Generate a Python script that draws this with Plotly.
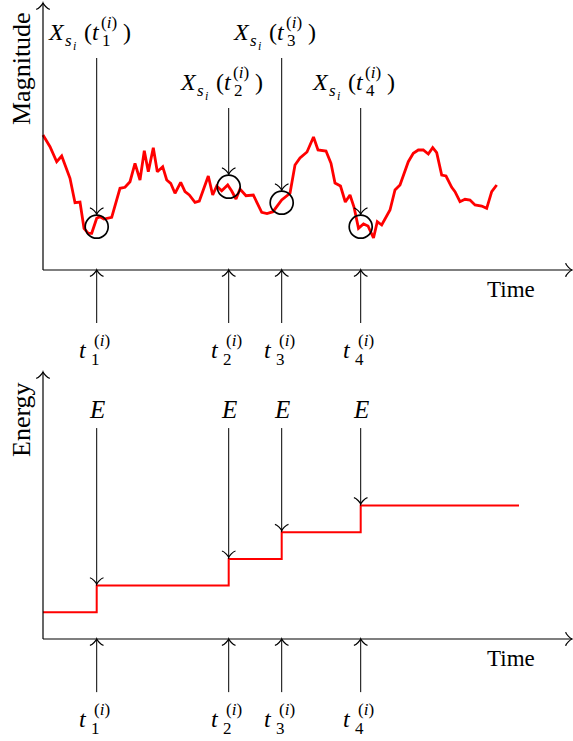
import plotly.graph_objects as go

W, H = 573, 741

# ---------------- data ----------------
mag_time = [0, 0.7, 1.37, 1.87, 2.7, 3.2, 3.7, 4.1, 4.53, 4.87,
            5.37, 5.7, 6.1, 6.87, 7.7, 8.2, 8.7, 9.2, 9.7, 10.13,
            10.53, 11.03, 11.43, 11.97, 12.37, 12.77, 13.2, 13.77, 14.2, 14.63,
            15.2, 15.63, 16.53, 16.97, 17.37, 17.87, 18.47, 18.87, 19.3, 19.7,
            20.3, 21.03, 21.87, 22.4, 23.0, 23.87, 24.7, 25.2, 25.7, 26.4,
            27.05, 27.5, 28.3, 28.8, 29.2, 29.75, 30.23, 30.7, 31.1, 31.55,
            32.05, 32.5, 33.05, 33.43, 33.87, 34.7, 35.2, 35.7, 36.53, 37.03,
            37.53, 38.03, 38.53, 38.97, 39.37, 39.87, 40.3, 40.87, 41.2, 41.7,
            42.2, 42.7, 43.2, 43.87, 44.37, 44.87, 45.37]
mag_value = [13.5, 12.33, 10.83, 11.4, 9.17, 6.73, 6.8, 4.17, 3.67, 3.67,
             5.17, 5.33, 5.1, 5.27, 8.17, 8.27, 8.83, 10.67, 9.0, 11.93,
             9.83, 12.23, 9.83, 10.33, 9.0, 8.67, 7.67, 8.77, 7.83, 7.5,
             6.77, 6.9, 9.4, 7.5, 8.4, 7.93, 8.5, 7.9, 7.1, 8.1,
             7.43, 7.5, 5.77, 5.65, 5.83, 7.0, 7.67, 10.5, 11.2, 11.8,
             13.3, 12.0, 11.9, 10.67, 8.7, 8.4, 6.8, 7.5, 6.3, 4.17,
             4.6, 4.4, 3.2, 4.83, 4.5, 6.0, 8.0, 8.5, 10.83, 11.67,
             12.0, 12.0, 11.6, 12.23, 11.73, 9.5, 9.4, 8.27, 7.83, 6.83,
             7.07, 7.0, 6.5, 6.4, 6.17, 7.83, 8.5]

event_time = [5.37, 18.57, 23.87, 31.77]
event_index = ["1", "2", "3", "4"]
event_magnitude = [4.33, 8.33, 6.73, 4.33]
energy_level = [1, 2, 3, 4, 5]
energy_end = 47.6

time_axis_end = 52.9
mag_axis_top = 26.7
energy_axis_top = 10.0

# ---------------- figure ----------------
SERIF = "Liberation Serif, Times New Roman, serif"
RED = "#ff0000"

fig = go.Figure()
fig.add_trace(go.Scatter(x=mag_time, y=mag_value, mode="lines",
                         line=dict(color=RED, width=2.8),
                         xaxis="x", yaxis="y", hoverinfo="skip"))
fig.add_trace(go.Scatter(x=[0] + event_time + [energy_end],
                         y=energy_level + [energy_level[-1]], mode="lines",
                         line=dict(color=RED, width=2, shape="hv"),
                         xaxis="x2", yaxis="y2", hoverinfo="skip"))

shapes = []
annotations = []


def line(xref, yref, x0, y0, x1, y1, w=1.0):
    shapes.append(dict(type="line", xref=xref, yref=yref, x0=x0, y0=y0,
                       x1=x1, y1=y1, line=dict(color="black", width=w),
                       layer="above"))


def barb(xref, yref, x, y, direction, off=0.0, w=1.2):
    # LaTeX "to" arrow tip; off moves the tip backwards along the shaft (px)
    k = 1.7
    pts = [(-3, 4), (-2.75, 2.5), (0, 0.25), (0.75, 0), (0, -0.25),
           (-2.75, -2.5), (-3, -4)]
    out = []
    for u, v in pts:
        u = (u - 0.75) * k - off
        v = v * k
        if direction == "right":
            px, py = u, v
        elif direction == "up":
            px, py = v, u
        else:  # down
            px, py = v, -u
        out.append((px, py))
    p = out
    path = ("M {:.2f},{:.2f} C {:.2f},{:.2f} {:.2f},{:.2f} {:.2f},{:.2f} "
            "C {:.2f},{:.2f} {:.2f},{:.2f} {:.2f},{:.2f}").format(
        *p[0], *p[1], *p[2], *p[3], *p[4], *p[5], *p[6])
    shapes.append(dict(type="path", xref=xref, yref=yref,
                       xsizemode="pixel", ysizemode="pixel",
                       xanchor=x, yanchor=y, path=path,
                       line=dict(color="black", width=w),
                       fillcolor="rgba(0,0,0,0)", layer="above"))


def txt(x, dx, base_py, s, size, xanchor="left", xref="x", angle=0):
    annotations.append(dict(x=x, xref=xref, xshift=dx,
                            y=1 - (base_py - 0.34 * size) / H, yref="paper",
                            yanchor="middle", xanchor=xanchor, text=s,
                            showarrow=False, textangle=angle,
                            font=dict(family=SERIF, size=size, color="black"),
                            borderpad=0, borderwidth=0))


# axes (drawn as arrows)
for xr, yr, ytop in (("x", "y", mag_axis_top), ("x2", "y2", energy_axis_top)):
    line(xr, yr, 0, 0, time_axis_end, 0, 1.2)
    line(xr, yr, 0, 0, 0, ytop, 1.2)
    barb(xr, yr, time_axis_end, 0, "right")
    barb(xr, yr, 0, ytop, "up")

# top panel: labels, arrows and circles
CIRCLE_R = 11.5
label_base = [40, 90, 40, 90]
label_tail = [21.2, 16.2, 21.2, 16.2]
for t, k, m, base, tail in zip(event_time, event_index, event_magnitude,
                               label_base, label_tail):
    shapes.append(dict(type="circle", xref="x", yref="y",
                       xsizemode="pixel", ysizemode="pixel",
                       xanchor=t, yanchor=m, x0=-CIRCLE_R, x1=CIRCLE_R,
                       y0=-CIRCLE_R, y1=CIRCLE_R,
                       line=dict(color="black", width=1.7), layer="above"))
    line("x", "y", t, m + 1.25, t, tail)
    barb("x", "y", t, m, "down", off=12.5)
    # X_{s_i}(t_k^{(i)})
    txt(t, -49, base, "<i>X</i>", 24)
    txt(t, -32, base + 6, "<i>s</i>", 17)
    txt(t, -24, base + 10, "<i>i</i>", 12)
    txt(t, -13, base, "(", 24)
    txt(t, -5, base, "<i>t</i>", 24)
    txt(t, 4, base - 12, "(<i>i</i>)", 17)
    txt(t, 5, base + 6, k, 17)
    txt(t, 26, base, ")", 24)
    # arrow from below to the axis
    line("x", "y", t, 0, t, -5.3)
    barb("x", "y", t, 0, "up")
    txt(t, -18, 358, "<i>t</i>", 24)
    txt(t, -3, 346, "(<i>i</i>)", 17)
    txt(t, -6, 365, k, 17)

# bottom panel
for j, (t, k) in enumerate(zip(event_time, event_index)):
    lvl = energy_level[j + 1]
    line("x2", "y2", t, lvl, t, 7.9)
    barb("x2", "y2", t, lvl, "down", off=1.5)
    txt(t, 0, 418, "<i>E</i>", 25, xanchor="center")
    line("x2", "y2", t, 0, t, -1.99)
    barb("x2", "y2", t, 0, "up")
    txt(t, -18, 727, "<i>t</i>", 24)
    txt(t, -3, 715, "(<i>i</i>)", 17)
    txt(t, -6, 734, k, 17)

# axis titles
txt(535 / W, 0, 297, "Time", 23, xanchor="right", xref="paper")
txt(535 / W, 0, 666, "Time", 23, xanchor="right", xref="paper")
annotations.append(dict(x=21 / W, y=1 - 69 / H, xref="paper", yref="paper",
                        text="Magnitude", textangle=-90, showarrow=False,
                        xanchor="center", yanchor="middle",
                        font=dict(family=SERIF, size=26, color="black")))
annotations.append(dict(x=21 / W, y=1 - 420 / H, xref="paper", yref="paper",
                        text="Energy", textangle=-90, showarrow=False,
                        xanchor="center", yanchor="middle",
                        font=dict(family=SERIF, size=26, color="black")))

ax_hidden = dict(visible=False, showgrid=False, zeroline=False, fixedrange=True)
fig.update_layout(
    width=W, height=H, margin=dict(l=0, r=0, t=0, b=0),
    paper_bgcolor="white", plot_bgcolor="rgba(0,0,0,0)",
    showlegend=False,
    xaxis=dict(domain=[0, 1], range=[-4.3, 53.0], anchor="y", **ax_hidden),
    yaxis=dict(domain=[1 - 370 / H, 1], range=[-10, 27], anchor="x", **ax_hidden),
    xaxis2=dict(domain=[0, 1], range=[-4.3, 53.0], anchor="y2", **ax_hidden),
    yaxis2=dict(domain=[0, 1 - 370 / H], range=[(639 - 741) / 26.7, (639 - 370) / 26.7],
                anchor="x2", **ax_hidden),
    shapes=shapes, annotations=annotations,
)

fig.write_html("out.html", config={"displayModeBar": False},
               post_script="document.body.style.margin='0px';")
